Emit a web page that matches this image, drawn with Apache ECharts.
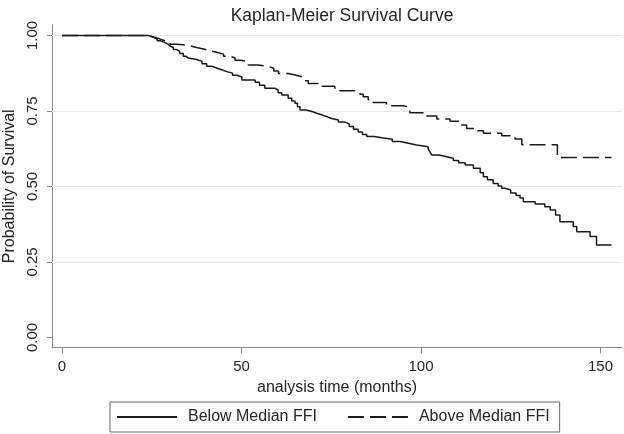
<!DOCTYPE html>
<html>
<head>
<meta charset="utf-8">
<script src="https://cdn.jsdelivr.net/npm/echarts@6/dist/echarts.min.js"></script>
<style>
html,body{margin:0;padding:0;background:#fff;}
#chart{width:624px;height:434px;}
</style>
</head>
<body>
<div id="chart"></div>
<script>
// Kaplan-Meier estimates (time in months, survival probability)
const belowTime = [0, 24.0, 25.0, 26.5, 27.5, 28.7, 29.5, 30.1, 31.0, 31.9, 32.8, 33.8, 34.5, 35.2, 37.5, 39.0, 40.3, 41.8, 43.1, 44.5, 45.9, 47.5, 48.8, 50.1, 53.8, 55.0, 56.5, 59.3, 60.2, 61.2, 63.0, 64.0, 64.9, 65.6, 66.3, 68.0, 69.6, 71.0, 72.3, 73.8, 75.1, 77.0, 78.8, 80.0, 81.2, 82.5, 83.7, 84.9, 87.0, 89.5, 92.0, 94.2, 96.5, 98.8, 102.0, 102.5, 103.0, 105.0, 107.2, 109.0, 110.5, 112.3, 114.6, 116.5, 117.4, 118.5, 120.1, 121.5, 122.5, 123.4, 125.0, 126.5, 127.6, 128.5, 131.8, 134.5, 136.0, 137.5, 138.7, 142.4, 143.4, 147.1, 148.9, 153.1];
const belowSurv = [1.0, 0.995, 0.989, 0.982, 0.976, 0.971, 0.965, 0.960, 0.953, 0.947, 0.940, 0.931, 0.925, 0.920, 0.914, 0.906, 0.898, 0.892, 0.886, 0.880, 0.875, 0.868, 0.862, 0.852, 0.845, 0.835, 0.825, 0.819, 0.810, 0.803, 0.792, 0.783, 0.775, 0.764, 0.753, 0.748, 0.742, 0.737, 0.731, 0.725, 0.720, 0.713, 0.707, 0.698, 0.689, 0.680, 0.672, 0.665, 0.660, 0.656, 0.649, 0.643, 0.637, 0.631, 0.624, 0.614, 0.604, 0.598, 0.593, 0.586, 0.578, 0.571, 0.560, 0.545, 0.532, 0.522, 0.510, 0.501, 0.494, 0.488, 0.478, 0.470, 0.462, 0.449, 0.442, 0.433, 0.422, 0.405, 0.383, 0.367, 0.350, 0.334, 0.306, 0.306];

const aboveTime = [0, 24.0, 25.5, 26.8, 28.2, 30.1, 31.9, 33.8, 35.7, 37.5, 39.4, 41.2, 43.1, 45.0, 46.8, 48.2, 49.6, 51.9, 54.5, 57.5, 59.0, 60.3, 63.0, 65.0, 66.8, 67.7, 68.6, 72.3, 76.0, 77.4, 82.1, 83.0, 83.9, 85.3, 86.7, 90.4, 95.1, 96.9, 101.6, 104.4, 108.1, 110.5, 112.7, 115.0, 117.4, 122.5, 126.2, 128.1, 138.0, 153.1];
const aboveSurv = [1.0, 0.995, 0.990, 0.984, 0.978, 0.971, 0.969, 0.965, 0.960, 0.955, 0.949, 0.944, 0.938, 0.931, 0.925, 0.918, 0.913, 0.902, 0.897, 0.891, 0.882, 0.874, 0.869, 0.863, 0.858, 0.850, 0.841, 0.832, 0.825, 0.817, 0.812, 0.805, 0.797, 0.787, 0.778, 0.767, 0.762, 0.744, 0.733, 0.723, 0.716, 0.703, 0.692, 0.684, 0.676, 0.668, 0.657, 0.638, 0.596, 0.596];

const seriesNames = ['Below Median FFI', 'Above Median FFI'];
const xTicks = [0, 50, 100, 150];
const yTicks = [0, 0.25, 0.5, 0.75, 1];
const yGrid = [0.25, 0.5, 0.75, 1];

const FONT = '"Liberation Sans", Arial, sans-serif';
const TXT = '#262626';
const AX = '#8a8a8a';

const chart = echarts.init(document.getElementById('chart'), null, {renderer: 'canvas'});
chart.setOption({
  animation: false,
  backgroundColor: '#ffffff',
  textStyle: {fontFamily: FONT},
  title: {
    text: 'Kaplan-Meier Survival Curve',
    left: 337, top: 2, textAlign: 'center',
    textStyle: {fontFamily: FONT, fontSize: 17.5, fontWeight: 'normal', color: TXT}
  },
  grid: {left: 52, right: 2, top: 25, bottom: 86.5, containLabel: false, outerBoundsMode: 'none'},
  xAxis: {
    type: 'value', min: -2.79, max: 156.0,
    name: 'analysis time (months)', nameLocation: 'middle', nameGap: 28,
    nameTextStyle: {fontFamily: FONT, fontSize: 16, color: TXT},
    axisLine: {show: true, onZero: false, lineStyle: {color: AX, width: 1}},
    axisTick: {show: true, length: 6, customValues: xTicks, lineStyle: {color: AX}},
    axisLabel: {customValues: xTicks, fontSize: 15, color: TXT, margin: 12, fontFamily: FONT},
    splitLine: {show: false}
  },
  yAxis: {
    type: 'value', min: -0.0334, max: 1.0344,
    name: 'Probability of Survival', nameLocation: 'middle', nameGap: 33,
    nameTextStyle: {fontFamily: FONT, fontSize: 16, color: TXT},
    axisLine: {show: true, onZero: false, lineStyle: {color: AX, width: 1}},
    axisTick: {show: true, length: 5, customValues: yTicks, lineStyle: {color: AX}},
    axisLabel: {customValues: yTicks, rotate: 90, fontSize: 15, color: TXT, margin: 12, fontFamily: FONT,
      formatter: v => Number(v).toFixed(2)},
    splitLine: {show: false}
  },
  legend: {
    data: seriesNames,
    left: 110, top: 402, width: 470,
    orient: 'horizontal',
    borderColor: '#666', borderWidth: 1, borderRadius: 0,
    padding: [7, 10, 7, 6],
    itemGap: 30, itemWidth: 60, itemHeight: 14,
    itemStyle: {opacity: 0},
    textStyle: {fontFamily: FONT, fontSize: 16, color: TXT, padding: [0, 0, 0, 6]}
  },
  series: [
    {
      name: '_grid', type: 'line', data: [], silent: true, z: 1,
      markLine: {
        z: 1,
        silent: true, symbol: 'none', label: {show: false},
        lineStyle: {color: '#e6e6e6', width: 1, type: 'solid'},
        data: yGrid.map(v => ({yAxis: v}))
      }
    },
    {
      name: seriesNames[0], type: 'line', step: 'end', showSymbol: false, symbol: 'none', z: 4,
      color: '#1a1a1a',
      lineStyle: {color: '#1a1a1a', width: 1.5, type: 'solid'},
      data: belowTime.map((t, i) => [t, belowSurv[i]])
    },
    {
      name: seriesNames[1], type: 'line', step: 'end', showSymbol: false, symbol: 'none', z: 3,
      color: '#1a1a1a',
      lineStyle: {color: '#1a1a1a', width: 1.5, type: [16, 6]},
      data: aboveTime.map((t, i) => [t, aboveSurv[i]])
    }
  ]
});
</script>
</body>
</html>
